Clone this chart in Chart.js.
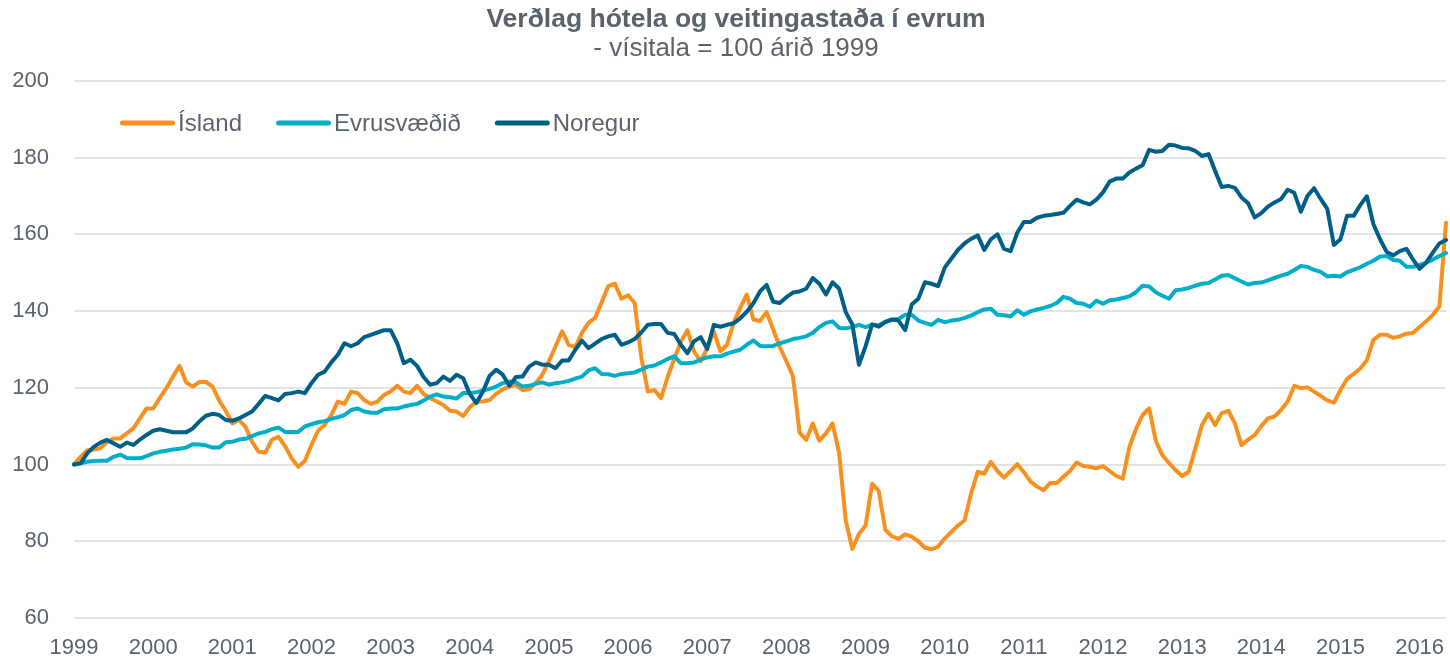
<!DOCTYPE html>
<html>
<head>
<meta charset="utf-8">
<script src="https://cdn.jsdelivr.net/npm/chart.js@4.4.1/dist/chart.umd.min.js"></script>
<style>
  html, body { margin: 0; padding: 0; background: #ffffff; }
  #wrap { width: 1450px; height: 661px; }
</style>
</head>
<body>
<div id="wrap"><canvas id="c" width="1450" height="661"></canvas></div>
<script>
const titleText = 'Verðlag hótela og veitingastaða í evrum';
const subtitleText = '- vísitala = 100 árið 1999';
const firstYear = 1999;
const monthCount = 209;
const seriesNames = ['Ísland', 'Evrusvæðið', 'Noregur'];
const yTicks = [60, 80, 100, 120, 140, 160, 180, 200];

const island = [
  100, 102, 103.7, 103.9, 104.2, 105.9, 106.8, 106.8, 108.1, 109.4,
  112, 114.6, 114.6, 117.3, 119.9, 122.9, 125.7, 121.4, 120.3, 121.5,
  121.5, 120.3, 116.7, 114, 110.7, 111.6, 109.8, 105.9, 103.3, 103.1,
  106.5, 107.2, 104.8, 101.6, 99.4, 100.9, 105.1, 108.8, 110.3, 112.9,
  116.4, 115.8, 119, 118.6, 116.8, 115.8, 116.4, 118.1, 119, 120.5,
  119, 118.6, 120.5, 118.4, 117.3, 116.4, 115.5, 114, 113.8, 112.6,
  114.9, 116.4, 116.4, 116.8, 118.4, 119.6, 120.3, 120.7, 119.4, 119.6,
  121.2, 123.4, 126.9, 130.8, 134.7, 131.2, 130.6, 134.3, 136.9, 138.2,
  142.3, 146.5, 147.1, 143.2, 144.1, 142.1, 128, 119, 119.4, 117.3,
  122.8, 127.5, 132, 135, 129.5, 126.9, 130.3, 134.7, 129.5, 131.2,
  136.9, 140.8, 144.3, 137.8, 137.4, 139.7, 135.2, 130.6, 126.9, 123,
  108.3, 106.4, 110.7, 106.2, 108.1, 110.7, 102.9, 85.4, 78, 81.9,
  84.1, 95, 93.1, 83, 81.3, 80.6, 81.8, 81.2, 80, 78.3,
  77.9, 78.6, 80.7, 82.4, 84.1, 85.4, 92.4, 98.1, 97.6, 100.7,
  98.3, 96.6, 98.3, 100.1, 98, 95.6, 94.2, 93.3, 95.2, 95.2,
  96.8, 98.3, 100.5, 99.6, 99.4, 99, 99.6, 98.3, 97, 96.3,
  104.6, 109.2, 112.9, 114.6, 106.2, 102.4, 100.4, 98.5, 97, 98.1,
  104.2, 110.3, 113.2, 110.3, 113.4, 114, 110.7, 105, 106.5, 107.7,
  110, 112, 112.5, 114.2, 116.4, 120.5, 119.9, 120.1, 119, 117.9,
  116.7, 116.1, 119.4, 122.3, 123.6, 125, 127.2, 132.5, 133.8, 133.8,
  133, 133.4, 134.1, 134.3, 135.8, 137.3, 139, 141.2, 163
];

const euroArea = [
  100, 100.3, 100.7, 100.9, 101, 101, 102, 102.6, 101.7, 101.6,
  101.6, 102.2, 102.9, 103.3, 103.6, 103.9, 104.1, 104.4, 105.3, 105.2,
  105, 104.4, 104.4, 105.8, 105.9, 106.5, 106.7, 107.4, 108.1, 108.5,
  109.2, 109.6, 108.5, 108.5, 108.5, 109.9, 110.5, 111, 111.3, 111.9,
  112.3, 112.9, 114.2, 114.6, 113.8, 113.5, 113.5, 114.4, 114.6, 114.6,
  115.1, 115.5, 115.8, 116.7, 117.7, 118.3, 117.7, 117.5, 117.2, 118.6,
  118.6, 118.8, 119.3, 119.7, 120.3, 121.2, 121.6, 121.4, 120.3, 120.5,
  121, 121.4, 120.8, 121.2, 121.4, 121.8, 122.4, 122.9, 124.5, 125.1,
  123.6, 123.5, 123.1, 123.6, 123.8, 124, 124.7, 125.5, 125.8, 126.6,
  127.5, 128.2, 126.4, 126.4, 126.6, 127.3, 127.9, 128.2, 128.2, 128.9,
  129.4, 129.9, 131.2, 132.3, 130.9, 130.8, 130.9, 131.6, 132.1, 132.7,
  133, 133.4, 134.3, 135.8, 136.9, 137.3, 135.6, 135.5, 135.8, 136.4,
  135.8, 136.4, 136.3, 137.2, 137.7, 137.9, 139, 139, 137.5, 136.9,
  136.4, 137.7, 137.1, 137.5, 137.7, 138.2, 138.8, 139.7, 140.4, 140.6,
  139, 138.9, 138.6, 140.2, 139, 139.9, 140.4, 140.8, 141.3, 142.1,
  143.7, 143.2, 142.1, 141.9, 141.1, 142.7, 141.9, 142.8, 143, 143.4,
  143.8, 144.9, 146.6, 146.4, 144.9, 144, 143.2, 145.4, 145.6, 146,
  146.6, 147.1, 147.3, 148.2, 149.2, 149.4, 148.5, 147.7, 146.9, 147.3,
  147.4, 148, 148.6, 149.2, 149.7, 150.7, 151.7, 151.5, 150.7, 150.2,
  149, 149.2, 149, 150.1, 150.7, 151.4, 152.3, 153.1, 154.2, 154.3,
  153.3, 153.1, 151.5, 151.5, 152, 152.6, 153.4, 154.3, 155.1
];

const norway = [
  100, 100.3, 102.9, 104.6, 105.7, 106.4, 105.5, 104.6, 105.7, 105.1,
  106.5, 107.7, 108.8, 109.2, 108.8, 108.4, 108.4, 108.4, 109.4, 111.2,
  112.7, 113.2, 112.9, 111.6, 111.4, 112, 112.9, 113.8, 115.8, 117.9,
  117.3, 116.7, 118.4, 118.6, 119, 118.6, 121.2, 123.4, 124.2, 126.6,
  128.6, 131.6, 130.8, 131.6, 133.2, 133.8, 134.4, 135, 135, 131.6,
  126.4, 127.3, 125.7, 122.8, 120.8, 121.2, 122.9, 121.8, 123.4, 122.5,
  118.4, 116, 119, 123.1, 124.7, 123.4, 120.5, 122.8, 122.9, 125.5,
  126.6, 126, 126, 125.1, 127.1, 127.1, 129.9, 132.3, 130.3, 131.5,
  132.7, 133.4, 133.8, 131.2, 131.8, 132.7, 134.4, 136.4, 136.6, 136.6,
  134.3, 134, 131.2, 129, 132.1, 133.2, 130.1, 136.4, 135.9, 136.4,
  136.8, 138.1, 139.8, 142, 145.1, 146.8, 142.4, 142.1, 143.6, 144.8,
  145.1, 145.8, 148.6, 147.1, 144.3, 147.5, 145.8, 139.7, 136.5, 126,
  130.8, 136.5, 135.9, 137.1, 137.8, 137.5, 135, 141.7, 143.2, 147.5,
  147.1, 146.5, 151.3, 153.6, 155.9, 157.6, 158.8, 159.7, 155.9, 158.7,
  160, 156.2, 155.6, 160.4, 163.2, 163.2, 164.3, 164.8, 165, 165.3,
  165.6, 167.4, 169, 168.3, 167.8, 169, 170.9, 173.7, 174.5, 174.5,
  176.1, 177.1, 178, 182, 181.5, 181.7, 183.3, 183.1, 182.5, 182.4,
  181.7, 180.4, 180.9, 176.5, 172.3, 172.6, 172.1, 169.6, 168.1, 164.4,
  165.5, 167.2, 168.3, 169.2, 171.6, 170.8, 165.9, 170, 172, 169.2,
  166.6, 157.2, 158.7, 164.8, 164.8, 167.6, 169.9, 162.6, 158.7, 155.4,
  154.5, 155.6, 156.2, 153.4, 151, 152.6, 155.2, 157.6, 158.5
];

// month categories: "1999-01" ... ; only January gets a visible year label
const categories = [];
for (let i = 0; i < monthCount; i++) {
  const y = firstYear + Math.floor(i / 12);
  const m = (i % 12) + 1;
  categories.push(y + '-' + (m < 10 ? '0' + m : m));
}

const COLORS = ['#F7901E', '#00AEC7', '#005F87'];
const TEXT = '#59636E';
const FONT = "'Liberation Sans', Arial, sans-serif";

const insideLegend = {
  id: 'insideLegend',
  afterDatasetsDraw(chart, args, opts) {
    const ctx = chart.ctx;
    ctx.save();
    ctx.font = opts.fontSize + 'px ' + FONT;
    ctx.textBaseline = 'middle';
    ctx.textAlign = 'left';
    let x = opts.x;
    const y = opts.y;
    chart.data.datasets.forEach((ds) => {
      ctx.strokeStyle = ds.borderColor;
      ctx.lineWidth = 5;
      ctx.lineCap = 'round';
      ctx.beginPath();
      ctx.moveTo(x + 2.5, y);
      ctx.lineTo(x + opts.lineLen - 2.5, y);
      ctx.stroke();
      x += opts.lineLen + opts.textGap;
      ctx.fillStyle = TEXT;
      ctx.fillText(ds.label, x, y + 1);
      x += ctx.measureText(ds.label).width + opts.itemGap;
    });
    ctx.restore();
  }
};

// shift the (full width) title block so that it is centred like the reference
const titleShift = {
  id: 'titleShift',
  afterLayout(chart, args, opts) {
    chart.boxes.forEach((b) => {
      if (b.options && typeof b.options.text === 'string' && b.position === 'top') {
        b.left += opts.shift;
      }
    });
  }
};

const datasets = [
  { label: seriesNames[0], data: island, borderColor: COLORS[0], order: 3 },
  { label: seriesNames[1], data: euroArea, borderColor: COLORS[1], order: 2 },
  { label: seriesNames[2], data: norway, borderColor: COLORS[2], order: 1 }
].map(d => Object.assign(d, {
  backgroundColor: d.borderColor,
  borderWidth: 4,
  pointRadius: 0,
  pointHoverRadius: 0,
  tension: 0,
  fill: false,
  borderJoinStyle: 'round',
  borderCapStyle: 'round'
}));

new Chart(document.getElementById('c'), {
  type: 'line',
  data: { labels: categories, datasets },
  plugins: [insideLegend, titleShift],
  options: {
    responsive: false,
    animation: false,
    devicePixelRatio: 1,
    layout: { padding: { left: 0, right: 4, top: 0, bottom: 0 } },
    plugins: {
      legend: { display: false },
      tooltip: { enabled: false },
      title: {
        display: true,
        text: titleText,
        color: TEXT,
        font: { family: FONT, size: 26.5, weight: 'bold', lineHeight: 1.1 },
        padding: { top: 5, bottom: 0 }
      },
      subtitle: {
        display: true,
        text: subtitleText,
        color: TEXT,
        font: { family: FONT, size: 26, weight: 'normal', lineHeight: 1.1 },
        padding: { top: 0, bottom: 18 }
      },
      titleShift: { shift: 26 },
      insideLegend: { x: 120, y: 123, lineLen: 55, textGap: 3, itemGap: 34, fontSize: 24 }
    },
    scales: {
      x: {
        type: 'category',
        offset: false,
        grid: { display: false, drawTicks: false },
        border: { display: false },
        afterFit: (scale) => { scale.height = 43; },
        ticks: {
          autoSkip: false,
          maxRotation: 0,
          minRotation: 0,
          padding: 0,
          color: TEXT,
          font: { family: FONT, size: 22, lineHeight: '60px' },
          callback: function(value, index) {
            return index % 12 === 0 ? String(firstYear + index / 12) : '';
          }
        }
      },
      y: {
        min: yTicks[0],
        max: yTicks[yTicks.length - 1],
        afterBuildTicks: (scale) => { scale.ticks = yTicks.map(v => ({ value: v })); },
        afterFit: (scale) => { scale.width = 74; },
        grid: { color: '#E3E3E3', lineWidth: 2, drawTicks: false },
        border: { display: false },
        ticks: {
          padding: 25,
          color: TEXT,
          font: { family: FONT, size: 22 }
        }
      }
    }
  }
});
</script>
</body>
</html>
